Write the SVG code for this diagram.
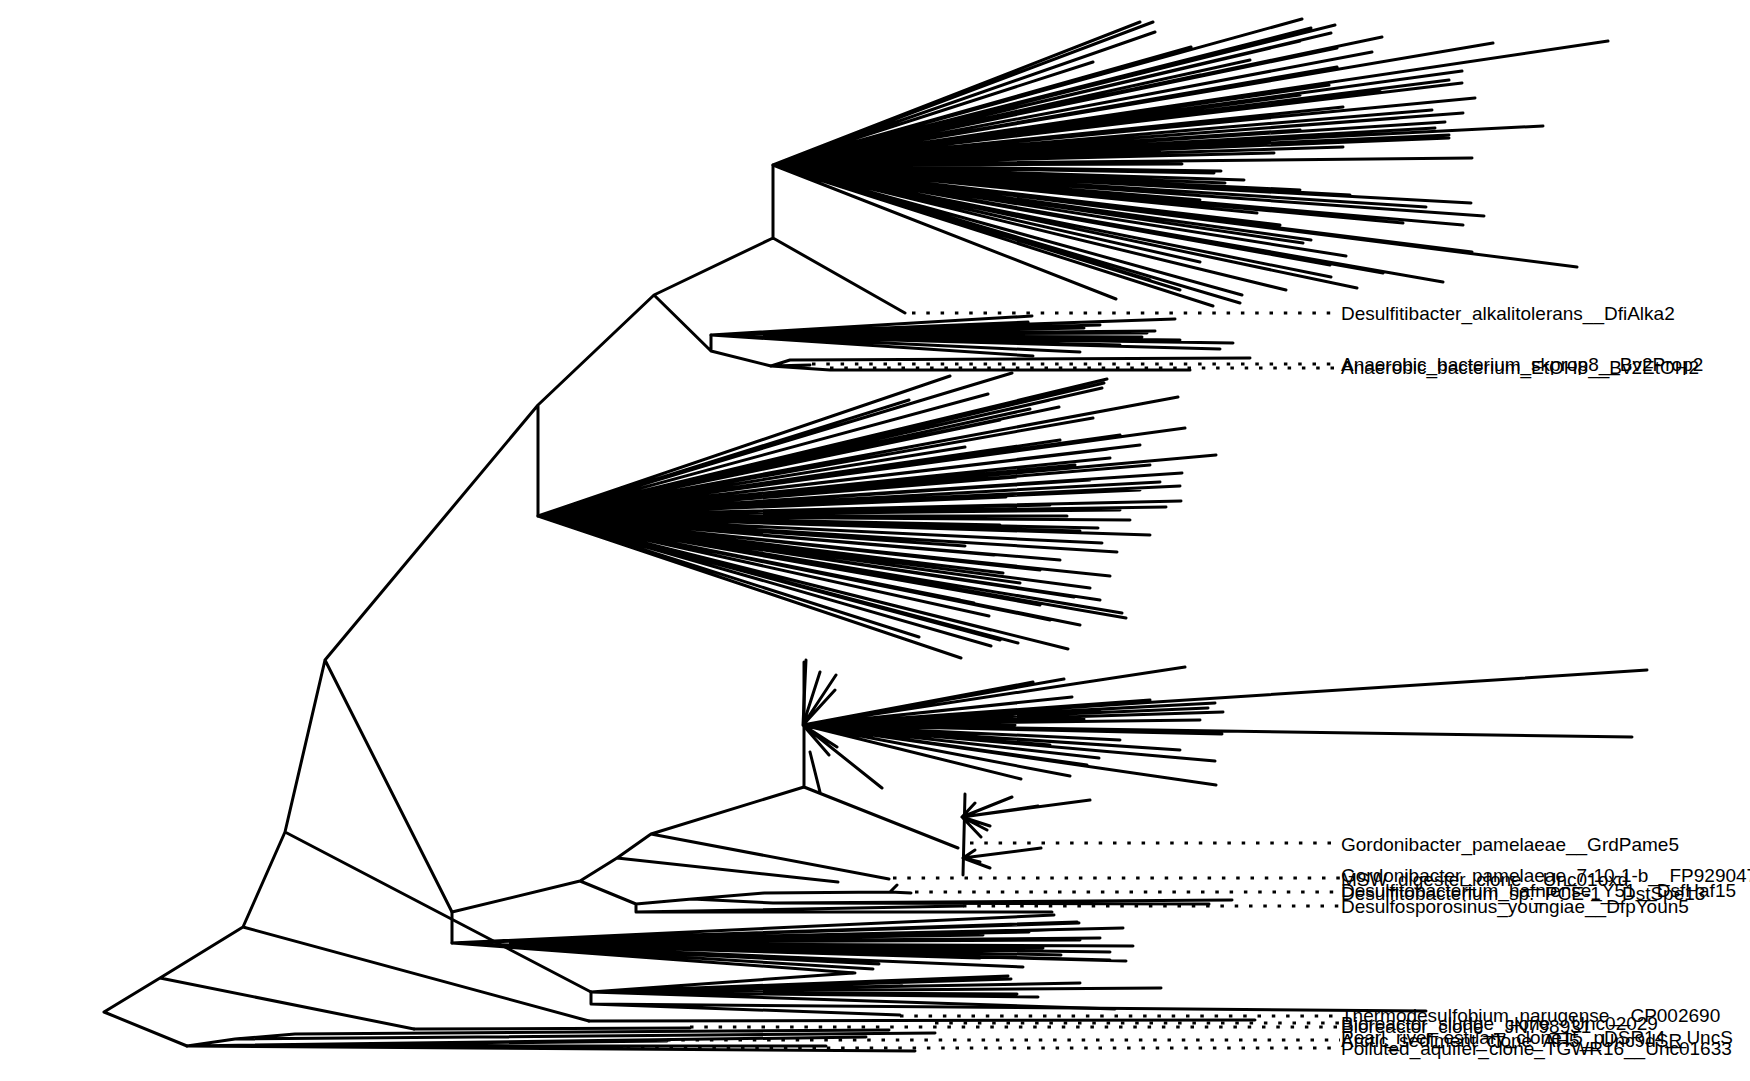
<svg xmlns="http://www.w3.org/2000/svg" width="1750" height="1081" viewBox="0 0 1750 1081">
<style>
.e{fill:none;stroke:#000;stroke-width:3;stroke-linecap:round;stroke-linejoin:round}
.d{fill:none;stroke:#000;stroke-width:3;stroke-dasharray:3.5 10.8}
.t{font-family:"Liberation Sans",Arial,sans-serif;font-size:19px;fill:#000}
</style>
<rect width="1750" height="1081" fill="#fff"/>
<g id="connectors">
<path class="e" d="M104,1012L160,978M104,1012L187,1046M160,978L243,927M160,978L414,1029M243,927L285,832M243,927L589,1021M285,832L325,660M285,832L591,992M325,660L538,405M325,660L452,912M538,405L538,516M538,405L654,295M654,295L773,238M773,238L773,165M773,238L905,313M654,295L711,351M711,351L711,335M711,351L771,366"/>
<path class="e" d="M452,912L452,943M452,912L580,881M580,881L617,858M617,858L651,834M617,858L838,882M651,834L804,787M651,834L889,879M580,881L636,904M636,904L636,912M636,904L692,899M692,899L764,893L890,892M890,892L897,885M890,892L911,893M692,899L773,903L1232,900M773,903L1209,904M636,912L1052,912M636,912L963,906"/>
<path class="e" d="M804,787L804,662M804,787L958,848M820,792L810,752M965,794L963,875"/>
<path class="e" d="M771,366L790,360L1250,358M771,366L810,365M771,366L830,370L1190,370"/>
<path class="e" d="M591,992L591,1004M591,1004L1426,1011M591,1004L900,1015M589,1021L1255,1020M414,1029L690,1028"/>
<path class="e" d="M187,1046L235,1039L295,1034L889,1030M235,1039L935,1033M187,1046L866,1037M187,1046L667,1041M187,1046L598,1046M187,1046L915,1051M187,1046L826,1046"/>
</g>
<g id="clade1">
<path class="e" d="M773,165L1153,22M773,165L1155,32M773,165L1093,62M773,165L1191,47M773,165L1302,19M773,165L1335,25M773,165L1311,28M773,165L1331,33M773,165L1382,37M773,165L1337,48M773,165L1372,52M773,165L1493,43M773,165L1608,41M773,165L1462,71M773,165L1449,80M773,165L1462,83M773,165L1337,67M773,165L1329,85M773,165L1475,98M773,165L1343,107M773,165L1432,110M773,165L1463,113M773,165L1445,122M773,165L1543,126M773,165L1435,128M773,165L1449,135M773,165L1449,138M773,165L1343,147M773,165L1274,153M773,165L1472,158M773,165L1182,164M773,165L1221,171M773,165L1214,173M773,165L1244,180M773,165L1225,183M773,165L1471,203M773,165L1426,207M773,165L1484,216M773,165L1257,213M773,165L1403,223M773,165L1463,225M773,165L1311,240M773,165L1303,243M773,165L1346,256M773,165L1472,252M773,165L1577,267M773,165L1383,273M773,165L1443,282M773,165L1331,277M773,165L1357,288M773,165L1286,290M773,165L1242,295M773,165L1240,303M773,165L1213,306M773,165L1116,299M773,165L1140,22M773,165L1300,41M773,165L1250,60M773,165L1200,75M773,165L1300,95M773,165L1380,90M773,165L1400,118M773,165L1300,130M773,165L1350,142M773,165L1160,150M773,165L1300,190M773,165L1350,195M773,165L1200,200M773,165L1280,225M773,165L1250,250M773,165L1200,262M773,165L1330,265M773,165L1150,280M773,165L1180,290"/>
</g>
<g id="clade2">
<path class="e" d="M538,516L950,376M538,516L1012,373M538,516L909,400M538,516L988,394M538,516L1107,379M538,516L1102,388M538,516L1059,407M538,516L1030,409M538,516L1178,397M538,516L1093,418M538,516L1185,428M538,516L965,447M538,516L1109,449M538,516L1110,458M538,516L1216,455M538,516L1016,477M538,516L1182,473M538,516L1180,486M538,516L1006,497M538,516L1181,501M538,516L1166,507M538,516L1067,516M538,516L1098,528M538,516L1080,531M538,516L1102,543M538,516L1117,552M538,516L965,546M538,516L994,555M538,516L1003,573M538,516L1110,576M538,516L1020,583M538,516L1074,597M538,516L974,603M538,516L1122,613M538,516L1126,618M538,516L989,616M538,516L991,630M538,516L1018,643M538,516L991,646M538,516L919,637M538,516L961,658M538,516L1068,649M538,516L1104,383M538,516L1050,400M538,516L1000,420M538,516L1120,435M538,516L1060,440M538,516L1150,465M538,516L1090,480M538,516L1140,490M538,516L1050,505M538,516L1130,520M538,516L1000,525M538,516L1150,535M538,516L1060,560M538,516L1090,588M538,516L1040,605M538,516L1080,625M538,516L1000,640M538,516L1050,620M538,516L960,600M538,516L1100,600M538,516L1140,445M538,516L1075,465M538,516L1160,482M538,516L1120,510M538,516L1040,570"/>
</g>
<g id="clade3">
<path class="e" d="M711,335L1032,316M711,335L1028,322M711,335L1175,319M711,335L1084,328M711,335L1155,331M711,335L1147,333M711,335L1142,337M711,335L1233,343M711,335L1220,349M711,335L1080,352M711,335L1033,356M711,335L1100,325M711,335L1180,340M711,335L1120,345M711,335L1000,330"/>
</g>
<g id="cladeM">
<path class="e" d="M803,725L1185,667M803,725L1064,679M803,725L1033,682M803,725L1072,697M803,725L1647,670M803,725L1215,703M803,725L1208,708M803,725L1223,712M803,725L1084,719M803,725L1030,722M803,725L1015,725M803,725L1632,737M803,725L1222,734M803,725L1099,758M803,725L1087,765M803,725L1215,761M803,725L1070,776M803,725L1021,779M803,725L1216,785M803,725L882,788M803,725L806,660M803,725L820,672M803,725L836,675M803,725L835,690M803,725L837,747M803,725L829,755M803,725L1150,700M803,725L1100,710M803,725L1200,720M803,725L1120,740M803,725L1180,750M803,725L1050,745"/>
</g>
<g id="cladeX">
<path class="e" d="M962,817L1012,797M962,817L1090,800M962,817L1038,806M962,817L975,803M962,817L981,837M962,817L987,830M962,817L990,826M963,858L1041,848M963,858L990,868M963,858L975,850M963,858L980,862"/>
</g>
<g id="cladeG">
<path class="e" d="M452,943L1054,915M452,943L1079,923M452,943L1029,932M452,943L983,935M452,943L1043,948M452,943L1061,955M452,943L1110,960M452,943L1023,967M452,943L873,969M452,943L855,973M452,943L1077,922M452,943L1123,928M452,943L1100,938M452,943L1133,946M452,943L1126,961M452,943L879,964M452,943L1000,925M452,943L1080,940M452,943L1050,930M452,943L1110,952M452,943L980,958"/>
</g>
<g id="cladeH">
<path class="e" d="M591,992L853,973M591,992L1008,976M591,992L1011,979M591,992L902,986M591,992L1161,988M591,992L1017,994M591,992L1038,997M591,992L1115,1009M591,992L1080,983"/>
</g>
<g id="leaders">
<path class="d" d="M912,313H1340M812,364H1340M830,368H1340M970,843H1340M893,878H1340M915,892H1340M963,906H1340M900,1016H1340M935,1023H1340M690,1027H1340M667,1040H1340M598,1048H1340"/>
</g>
<g id="labels">
<text class="t" x="1341" y="320">Desulfitibacter_alkalitolerans__DfiAlka2</text>
<text class="t" x="1341" y="371">Anaerobic_bacterium_skprop8__Bv2Prop2</text>
<text class="t" x="1341" y="374">Anaerobic_bacterium_EtOH8__Bv2EtOH2</text>
<text class="t" x="1341" y="851">Gordonibacter_pamelaeae__GrdPame5</text>
<text class="t" x="1341" y="882">Gordonibacter_pamelaeae_7-10-1-b__FP929047</text>
<text class="t" x="1341" y="886">MSW_digester_clone__Unc01oxd</text>
<text class="t" x="1341" y="897">Desulfitobacterium_hafniense_Y51__DsfHaf15</text>
<text class="t" x="1341" y="900">Desulfitobacterium_sp._PCE-1__DstSpe13</text>
<text class="t" x="1341" y="913">Desulfosporosinus_youngiae__DfpYoun5</text>
<text class="t" x="1341" y="1022">Thermodesulfobium_narugense__CP002690</text>
<text class="t" x="1341" y="1030">Bioreactor_sludge_clone__Unc02029</text>
<text class="t" x="1341" y="1033">Bioreactor_clone__JN798931</text>
<text class="t" x="1341" y="1044">Pearl_river_estuary_clone15_pDSR14__UncS</text>
<text class="t" x="1341" y="1047">Arctic_sediment_clone_AH5__Unc9dSR</text>
<text class="t" x="1341" y="1055">Polluted_aquifer_clone_TGWR16__Unc01633</text>
</g>
</svg>
